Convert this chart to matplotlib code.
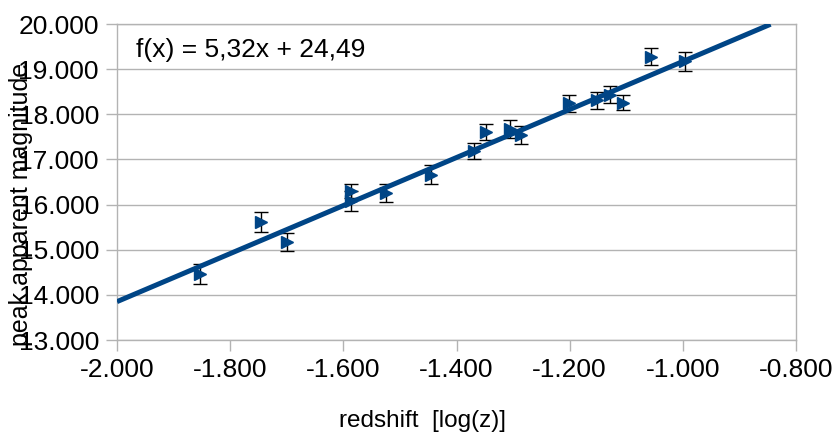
import matplotlib
matplotlib.use("Agg")
import matplotlib.pyplot as plt
import numpy as np

plt.rcParams['font.family'] = ['Liberation Sans', 'DejaVu Sans']

# measured points: log(z), peak apparent magnitude, error
log_z = [-1.854, -1.746, -1.699, -1.586, -1.586, -1.525, -1.445, -1.369,
         -1.348, -1.305, -1.286, -1.202, -1.152, -1.129, -1.105, -1.057, -0.996]
magnitude = [14.47, 15.61, 15.18, 16.30, 16.08, 16.26, 16.66, 17.19,
             17.61, 17.67, 17.54, 18.24, 18.31, 18.43, 18.26, 19.28, 19.17]
mag_err = [0.22, 0.22, 0.20, 0.16, 0.23, 0.20, 0.21, 0.17,
           0.18, 0.20, 0.19, 0.18, 0.19, 0.19, 0.17, 0.18, 0.22]

# trend line from the chart's label
slope = 5.32
intercept = 24.49
fit_x = np.array([-2.0, -0.845])

x_ticks = [-2.0, -1.8, -1.6, -1.4, -1.2, -1.0, -0.8]
y_ticks = [13, 14, 15, 16, 17, 18, 19, 20]

blue = '#004586'
gray = '#b3b3b3'

fig = plt.figure(figsize=(8.34, 4.34), dpi=100)
ax = fig.add_axes([117/834, 1 - 340/434, 679/834, 316/434])

ax.plot(fit_x, slope * fit_x + intercept, color=blue, linewidth=3.6,
        solid_capstyle='butt', zorder=3)
ax.errorbar(log_z, magnitude, yerr=mag_err, fmt='none', ecolor='black',
            elinewidth=1.0, capsize=5, capthick=1.0, zorder=2)
ax.plot(log_z, magnitude, linestyle='none', marker='>', markersize=9,
        color=blue, zorder=4)

ax.set_xlim(-2.0, -0.8)
ax.set_ylim(13, 20)
ax.set_xticks(x_ticks)
ax.set_yticks(y_ticks)
ax.set_xticklabels([f'{v:.3f}' for v in x_ticks])
ax.set_yticklabels([f'{v:.3f}' for v in y_ticks])
ax.tick_params(axis='both', labelsize=19, color=gray, length=8, width=1, pad=5)

ax.grid(axis='y', color=gray, linewidth=1)
ax.set_axisbelow(True)
for sp in ax.spines.values():
    sp.set_color(gray)
    sp.set_linewidth(1)

ax.text(136/834, 1 - 50/434, 'f(x) = 5,32x + 24,49', transform=fig.transFigure,
        fontsize=19, ha='left', va='center')

fig.text(21/834, 1 - 204/434, 'peak apparent magnitude', rotation=90,
         fontsize=18, ha='center', va='center')
fig.text(423/834, 1 - 421/434, 'redshift  [log(z)]', fontsize=17.5,
         ha='center', va='center')

fig.savefig('out.png', dpi=100)
